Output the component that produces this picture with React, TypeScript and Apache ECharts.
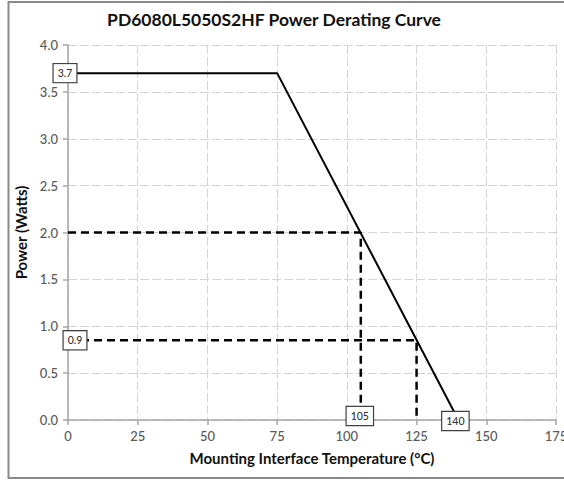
import React, { useEffect, useRef } from "react";
import * as echarts from "echarts";

const titleText = "PD6080L5050S2HF Power Derating Curve";
const xName = "Mounting Interface Temperature (°C)";
const yName = "Power (Watts)";

// derating curve (temperature °C, power W)
const curveTemp = [0, 75, 140];
const curvePower = [3.7, 3.7, 0];

// guide at 2.0 W -> 105 °C
const guideA = [[0, 2.0], [105, 2.0], [105, 0]];
// guide at ~0.85 W (labelled 0.9) -> 125 °C
const guideB = [[0, 0.85], [125, 0.85], [125, 0]];

// boxed annotations: [x, y, text]
const annoX = [0, 0, 105, 140];
const annoY = [3.7, 0.85, 0, 0];
const annoText = ["3.7", "0.9", "105", "140"];
const annoOffset = [[-3, 0], [7, 0], [-1, -4], [-3, 1]];

const FONT = "Lato, 'Open Sans', sans-serif";

export default function App() {
  const ref = useRef<HTMLDivElement>(null);
  useEffect(() => {
    document.body.style.margin = "0";
    const chart = echarts.init(ref.current!, null, { renderer: "svg" });
    const gridLine = { show: true, lineStyle: { color: "#d4d4d4", type: [9, 3] as any, width: 1 } };
    chart.setOption({
      animation: false,
      backgroundColor: "#ffffff",
      textStyle: { fontFamily: FONT },
      title: {
        text: titleText,
        left: 269,
        top: 5,
        textAlign: "center",
        textStyle: { fontFamily: FONT, fontSize: 17.5, fontWeight: "bold", color: "#111111" },
      },
      graphic: [
        {
          type: "rect",
          shape: { x: 8.5, y: 2, width: 600, height: 476 },
          style: { fill: "none", stroke: "#8a8a8a", lineWidth: 2 },
          silent: true,
        },
      ],
      grid: { left: 68, right: 8, top: 45, bottom: 60, outerBoundsMode: "none" },
      xAxis: {
        type: "value",
        min: 0,
        max: 175,
        interval: 25,
        name: xName,
        nameLocation: "middle",
        nameGap: 30,
        nameTextStyle: { fontFamily: FONT, fontSize: 15, fontWeight: "bold", color: "#111111" },
        axisLine: { show: true, lineStyle: { color: "#a6a6a6", width: 1.5 } },
        axisTick: { show: true, length: 5, lineStyle: { color: "#a6a6a6", width: 1.5 } },
        axisLabel: { color: "#595959", fontSize: 13, margin: 9, fontFamily: FONT, fontWeight: 500 },
        splitLine: gridLine,
      },
      yAxis: {
        type: "value",
        min: 0,
        max: 4,
        interval: 0.5,
        name: yName,
        nameLocation: "middle",
        nameGap: 32,
        nameTextStyle: { fontFamily: FONT, fontSize: 15, fontWeight: "bold", color: "#111111" },
        axisLine: { show: true, lineStyle: { color: "#a6a6a6", width: 1.5 } },
        axisTick: { show: true, length: 5, lineStyle: { color: "#a6a6a6", width: 1.5 } },
        axisLabel: {
          color: "#595959",
          fontSize: 13,
          margin: 10,
          fontFamily: FONT,
          fontWeight: 500,
          formatter: (v: number) => v.toFixed(1),
        },
        splitLine: gridLine,
      },
      series: [
        {
          type: "line",
          data: guideA,
          symbol: "none",
          lineStyle: { color: "#000", width: 2.5, type: [8, 5] },
          z: 3,
        },
        {
          type: "line",
          data: guideB,
          symbol: "none",
          lineStyle: { color: "#000", width: 2.5, type: [8, 5] },
          z: 3,
        },
        {
          type: "line",
          data: curveTemp.map((t, i) => [t, curvePower[i]]),
          symbol: "none",
          lineStyle: { color: "#000", width: 2 },
          z: 4,
        },
        {
          type: "scatter",
          symbol: "rect",
          symbolSize: 0,
          itemStyle: { color: "#ffffff", opacity: 1 },
          z: 10,
          data: annoX.map((x, i) => ({
            value: [x, annoY[i]],
            label: {
              show: true,
              position: "inside",
              formatter: annoText[i],
              offset: annoOffset[i],
              fontSize: 10.5,
              fontWeight: 500,
              fontFamily: FONT,
              color: "#333333",
              opacity: 1,
              backgroundColor: "#ffffff",
              borderColor: "#404040",
              borderWidth: 1.2,
              padding: [4, 4, 3, 4],
            },
          })),
        },
      ],
    });
    return () => chart.dispose();
  }, []);
  return <div ref={ref} style={{ width: 564, height: 480 }} />;
}
